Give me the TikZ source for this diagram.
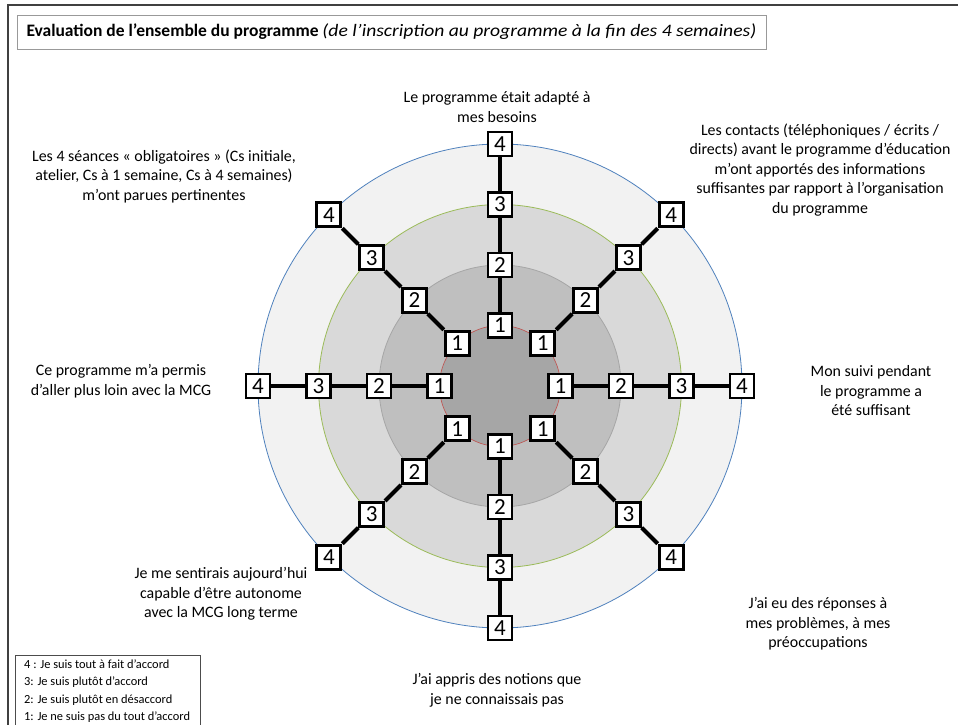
\documentclass[tikz,border=0pt]{standalone}
\usepackage{fontspec}
\setmainfont{Carlito}
\definecolor{ringred}{HTML}{C0504D}
\definecolor{ringgreen}{HTML}{9BBB59}
\definecolor{ringblue}{HTML}{4F81BD}
\tikzset{
  score/.style={draw=black, line width=2.8pt, fill=white, minimum size=24pt, inner sep=0pt,
    font=\fontsize{23}{23}\selectfont},
  spoke/.style={line width=4pt},
  question/.style={align=center, font=\fontsize{15.9}{19.5}\selectfont},
}
\begin{document}
\begin{tikzpicture}[x=1pt,y=-1pt]
\useasboundingbox (0,0) rectangle (958,725);
\clip (0,0) rectangle (958,725);
\fill[white] (0,0) rectangle (958,725);
% frame and title
\draw[line width=2pt, black!75] (8,760) -- (8,5) -- (990,5);
\draw[black!40, line width=0.8pt] (17,15) rectangle (766,49);
\node[anchor=west, font=\fontsize{17.5}{20}\selectfont] (title) at (23,32)
  {\textbf{Evaluation de l’ensemble du programme} \scalebox{1.12}[1]{\textit{(de l’inscription au programme à la fin des 4 semaines)}}};

% rings
\begin{scope}[shift={(500,386)}]
  \filldraw[fill=black!5, draw=ringblue, line width=0.8pt] (0,0) circle (242);
  \filldraw[fill=black!15, draw=ringgreen, line width=0.8pt] (0,0) circle (181.5);
  \filldraw[fill=black!25, draw=black!35, line width=0.8pt] (0,0) circle (121);
  \filldraw[fill=black!35, draw=ringred, line width=0.6pt] (0,0) circle (60.5);
  % scores
  \foreach \a in {0,45,...,315}
    \foreach \k in {1,...,4}
      \node[score] (s\a-\k) at (\a:{60.5*\k}) {\k};
\end{scope}
\foreach \a in {0,45,...,315}
  \draw[spoke] (s\a-1) -- (s\a-2) -- (s\a-3) -- (s\a-4);

% questions
\node[question] (q1) at (497,107) {Le programme était adapté à\\mes besoins};
\node[question] (q2) at (820,170) {Les contacts (téléphoniques / écrits /\\directs) avant le programme d’éducation\\m’ont apportés des informations\\suffisantes par rapport à l’organisation\\du programme};
\node[question] (q3) at (871,391) {Mon suivi pendant\\le programme a\\été suffisant};
\node[question] (q4) at (818,624) {J’ai eu des réponses à\\mes problèmes, à mes\\préoccupations};
\node[question] (q5) at (497,690) {J’ai appris des notions que\\je ne connaissais pas};
\node[question] (q6) at (221,594) {Je me sentirais aujourd’hui\\capable d’être autonome\\avec la MCG long terme};
\node[question] (q7) at (121,381) {Ce programme m’a permis\\d’aller plus loin avec la MCG};
\node[question] (q8) at (164,176) {Les 4 séances « obligatoires » (Cs initiale,\\atelier, Cs à 1 semaine, Cs à 4 semaines)\\m’ont parues pertinentes};

% legend
\draw[black!70, line width=0.8pt] (15,760) -- (15,655) -- (200,655) -- (200,760);
\node[anchor=north west, align=left, inner sep=0pt, font=\fontsize{12.4}{17.4}\selectfont] (legend) at (24,659.5)
  {4 : Je suis tout à fait d’accord\\3: Je suis plutôt d’accord\\2: Je suis plutôt en désaccord\\1: Je ne suis pas du tout d’accord};
\end{tikzpicture}
\end{document}
